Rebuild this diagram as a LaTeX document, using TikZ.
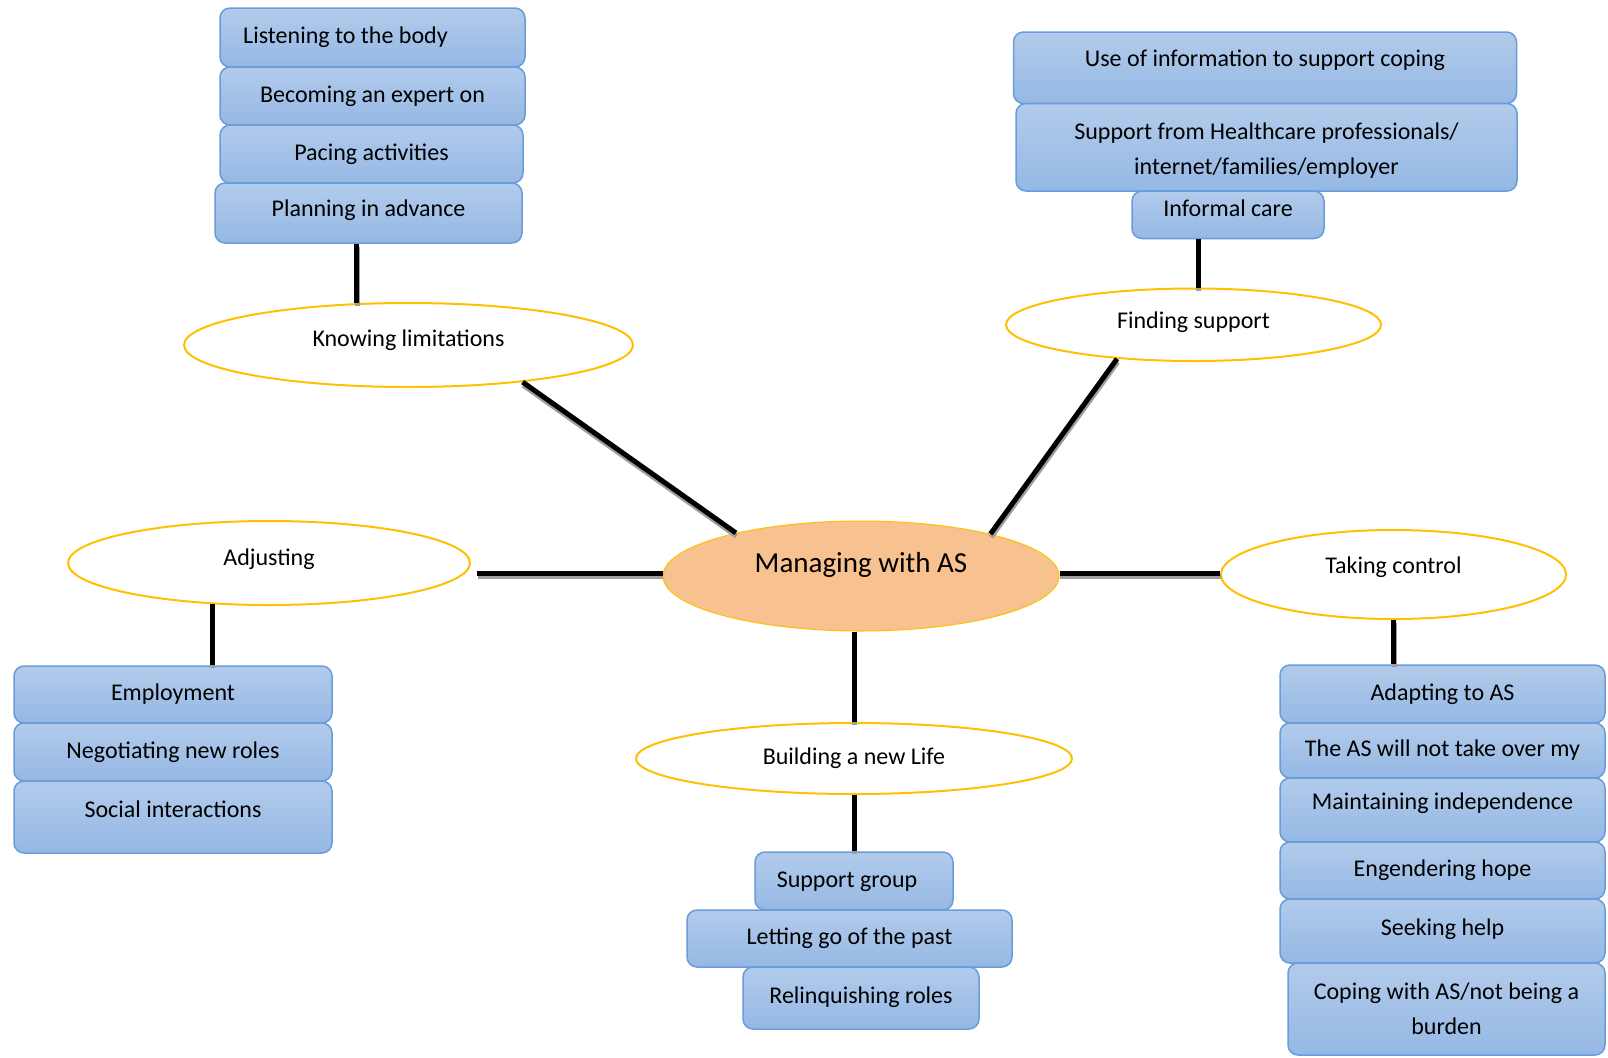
\documentclass[tikz,border=0pt]{standalone}
\usepackage{fontspec}
\setmainfont{Carlito}
\usepackage{tikz}
\usetikzlibrary{shapes.geometric}
\definecolor{boxtop}{RGB}{178,203,235}
\definecolor{boxbot}{RGB}{149,184,228}
\definecolor{boxline}{RGB}{104,156,218}
\definecolor{themeline}{RGB}{255,192,0}
\definecolor{coreorange}{RGB}{248,193,144}

\begin{document}
\begin{tikzpicture}[x=0.5pt, y=-0.5pt,
    every node/.style={font=\fontsize{12pt}{17.5pt}\selectfont},
    wh/.style 2 args={minimum width=#1pt, minimum height=#2pt},
    item/.style={rectangle, rounded corners=5pt, draw=boxline, line width=0.75pt,
        top color=boxtop, bottom color=boxbot, inner sep=0pt, align=center,
        text height=9pt, text depth=3pt},
    theme/.style={ellipse, draw=themeline, line width=1pt, fill=white, inner sep=0pt,
        text height=9pt, text depth=3pt},
    core/.style={ellipse, draw=themeline, line width=0.5pt, fill=coreorange, inner sep=0pt,
        font=\fontsize{14.5pt}{17pt}\selectfont, text height=11pt, text depth=3.5pt},
    link/.style={line width=2.5pt, preaction={draw=black!38, line width=2.5pt,
        transform canvas={xshift=0.3pt, yshift=-1.6pt}}}]
    \useasboundingbox (0,0) rectangle (1608,1057);

    % centre
    \node[core, wh={198}{55}, text depth=15pt] (core) at (861,576) {Managing with AS};

    % Knowing limitations
    \node[item, wh={152.5}{29.5}] (listen) at (372.5,37.5) {Listening to the body\kern27pt};
    \node[item, wh={152.5}{29}] (expert) at (372.5,96) {Becoming an expert on};
    \node[item, wh={151.5}{29}] (pacing) at (371.5,154) {Pacing activities};
    \node[item, wh={153.5}{30}, text depth=6pt] (planning) at (368.5,213) {Planning in advance};
    \node[theme, wh={224.5}{42}, text depth=8pt] (knowing) at (408.5,345) {Knowing limitations};

    % Finding support
    \node[item, wh={251.5}{35.75}, text depth=10pt] (useinfo) at (1265,67.75) {Use of information to support coping};
    \node[item, wh={250.5}{43.75}, text height={}, text depth={}] (helpers) at (1266.5,147.25)
        {\rule{0pt}{12pt}Support from Healthcare professionals/\\internet/families/employer};
    \node[item, wh={96}{23.75}, text depth=7.5pt] (informal) at (1228,214.75) {Informal care};
    \node[theme, wh={187.5}{36.25}, text depth=5pt] (finding) at (1193.5,324.75) {Finding support};

    % Adjusting
    \node[theme, wh={201}{42}, text depth=7pt] (adjusting) at (269,563) {Adjusting};
    \node[item, wh={159}{28.5}] (employment) at (173,694.5) {Employment};
    \node[item, wh={159}{29}] (negotiating) at (173,752) {Negotiating new roles};
    \node[item, wh={159}{36}, text depth=9pt] (social) at (173,817) {Social interactions};

    % Building a new Life
    \node[theme, wh={218}{35.5}] (building) at (854,758.5) {Building a new Life};
    \node[item, wh={99}{29}] (support) at (854,881) {Support group\kern7pt};
    \node[item, wh={162.5}{28.5}] (letting) at (849.5,938.5) {Letting go of the past};
    \node[item, wh={118}{31}, text depth=4pt] (relinquish) at (861,998) {Relinquishing roles};

    % Taking control
    \node[theme, wh={172.5}{44.5}, text depth=10pt] (taking) at (1393.5,574.5) {Taking control};
    \node[item, wh={162.5}{29}] (adapting) at (1442.5,694) {Adapting to AS};
    \node[item, wh={162.5}{27.5}, text depth=3.5pt] (takeover) at (1442.5,750.5) {The AS will not take over my};
    \node[item, wh={162.5}{32}, text depth=10pt] (independence) at (1442.5,810) {Maintaining independence};
    \node[item, wh={162.5}{28.5}] (hope) at (1442.5,870.5) {Engendering hope};
    \node[item, wh={162.5}{32}, text depth=4.5pt] (seeking) at (1442.5,931) {Seeking help};
    \node[item, wh={158.5}{46}, text height={}, text depth={}] (coping) at (1446.5,1009)
        {Coping with AS/not being a\\burden};

    % links
    \draw[link] (planning.south -| knowing.141) -- (knowing.141);
    \draw[link] (knowing.-18) -- (core.161);
    \draw[link] (informal.south -| finding.83) -- (finding.83);
    \draw[link] (finding.-156) -- (core.18);
    \draw[link, shorten >=3pt] ([yshift=1.5pt]core.west) -- ([yshift=1.5pt]core.west -| adjusting.east);
    \draw[link] ([yshift=1.5pt]core.east) -- ([yshift=1.5pt]core.east -| taking.west);
    \draw[link] (adjusting.-144) -- (adjusting.-144 |- employment.north);
    \draw[link] (core.south -| building.north) -- (building.north);
    \draw[link] (building.south) -- (support.north);
    \draw[link] (taking.south) -- (taking.south |- adapting.north);
\end{tikzpicture}
\end{document}
